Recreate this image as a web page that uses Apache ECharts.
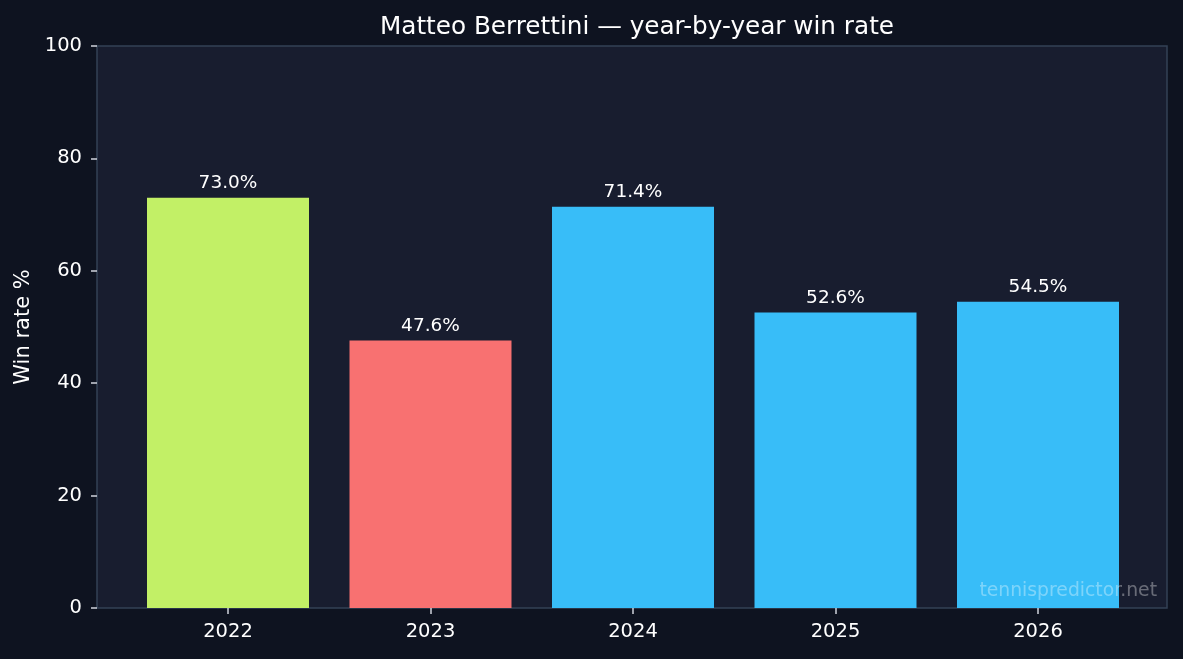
<!DOCTYPE html>
<html>
<head>
<meta charset="utf-8">
<script src="https://cdn.jsdelivr.net/npm/echarts@6/dist/echarts.min.js"></script>
<style>
html, body { margin: 0; padding: 0; background: #0e1320; }
#chart { width: 1183px; height: 659px; }
</style>
</head>
<body>
<div id="chart"></div>
<script>
// data
const years = ["2022", "2023", "2024", "2025", "2026"];
const winRates = [73.0, 47.6, 71.4, 52.6, 54.5];
const barColors = ["#c2f066", "#f87171", "#38bdf8", "#38bdf8", "#38bdf8"];
const yTicks = [0, 20, 40, 60, 80, 100];

const font = "DejaVu Sans";
const chart = echarts.init(document.getElementById("chart"));

chart.setOption({
    backgroundColor: "#0e1320",
    animation: false,
    title: {
        text: "Matteo Berrettini \u2014 year-by-year win rate",
        left: 632,
        top: 10,
        textAlign: "center",
        textStyle: { color: "#ffffff", fontSize: 24.7, fontWeight: "normal", fontFamily: font }
    },
    grid: [
        // plot frame / background
        { left: 97, right: 16, top: 46, bottom: 51, show: true, backgroundColor: "#181d2f", borderColor: "#334155", borderWidth: 1.5, z: 0 },
        // bars, inset like matplotlib's x padding
        { left: 126.75, right: 43.75, top: 46, bottom: 51 }
    ],
    xAxis: [
        { gridIndex: 0, type: "value", min: 0, max: 1, show: false },
        {
            gridIndex: 1,
            type: "category",
            data: years,
            axisLine: { show: false },
            axisTick: { show: true, alignWithLabel: true, length: 6, lineStyle: { color: "#d0d4dc", width: 1.5 } },
            axisLabel: { color: "#ffffff", fontSize: 19.5, fontFamily: font, margin: 14 }
        }
    ],
    yAxis: [
        {
            gridIndex: 0,
            type: "value",
            min: yTicks[0],
            max: yTicks[yTicks.length - 1],
            interval: yTicks[1] - yTicks[0],
            name: "Win rate %",
            nameLocation: "middle",
            nameGap: 61,
            nameTextStyle: { color: "#ffffff", fontSize: 21, fontFamily: font },
            axisLine: { show: false },
            axisTick: { show: true, length: 6, lineStyle: { color: "#d0d4dc", width: 1.5 } },
            axisLabel: { color: "#ffffff", fontSize: 19.5, fontFamily: font, margin: 15 },
            splitLine: { show: false }
        },
        { gridIndex: 1, type: "value", min: 0, max: 100, show: false }
    ],
    graphic: [
        {
            type: "text",
            right: 26,
            top: 582,
            z: 100,
            style: {
                text: "tennispredictor.net",
                fill: "rgba(255,255,255,0.35)",
                fontSize: 18.8,
                fontFamily: font
            }
        }
    ],
    series: [
        {
            type: "bar",
            xAxisIndex: 1,
            yAxisIndex: 1,
            barWidth: "80%",
            data: winRates.map((v, i) => ({ value: v, itemStyle: { color: barColors[i] } })),
            label: {
                show: true,
                position: "top",
                distance: 5,
                color: "#ffffff",
                fontSize: 18.5,
                fontFamily: font,
                formatter: p => p.value.toFixed(1) + "%"
            }
        }
    ]
});
</script>
</body>
</html>
